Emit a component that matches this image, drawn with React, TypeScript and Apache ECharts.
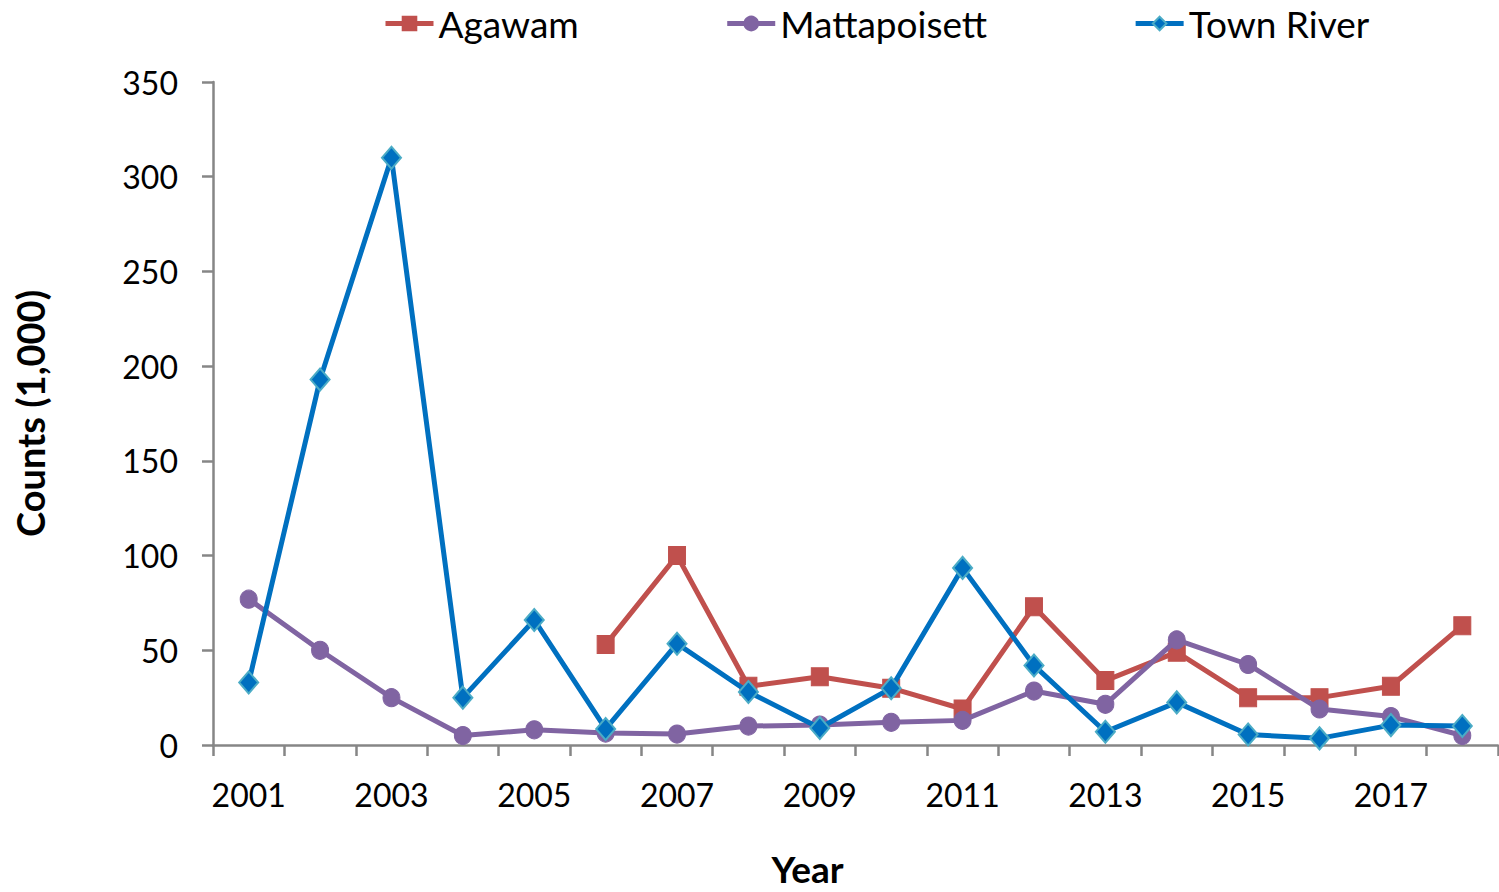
import React, { useEffect, useRef } from "react";
import * as echarts from "echarts";

const years = ["2001","2002","2003","2004","2005","2006","2007","2008","2009","2010","2011","2012","2013","2014","2015","2016","2017","2018"];
const agawam = [null, null, null, null, null, 53, 100, 31, 36, 30, 19, 73, 34, 49, 25, 25, 31, 63];
const mattapoisett = [77, 50, 25, 5, 8, 6.3, 5.8, 10, 10.5, 12, 13, 28.5, 21.5, 55.5, 42.5, 19, 15, 5];
const townRiver = [33, 193, 310, 25, 66, 8.5, 53.5, 28, 9, 30, 93.5, 42, 7, 22.5, 5.5, 3.5, 10.5, 10];
const yTicks = { min: 0, max: 350, interval: 50 };

const FONT = "Lato, 'Open Sans', sans-serif";
const AXIS_GRAY = "#868686";

export default function App() {
  const ref = useRef<HTMLDivElement>(null);
  useEffect(() => {
    document.body.style.margin = "0";
    const chart = echarts.init(ref.current!, null, { renderer: "svg" });
    chart.setOption({
      animation: false,
      backgroundColor: "#ffffff",
      textStyle: { fontFamily: FONT },
      legend: {
        top: 0,
        left: 378,
        itemWidth: 48,
        itemHeight: 17,
        itemGap: 146,
        lineStyle: { width: 5 },
        textStyle: { fontSize: 37, color: "#000", fontFamily: FONT },
        data: ["Agawam", "Mattapoisett", "Town River"],
      },
      grid: { left: 213, right: 1, top: 82, bottom: 143 },
      xAxis: {
        type: "category",
        data: years,
        boundaryGap: true,
        name: "Year",
        nameLocation: "middle",
        nameGap: 105,
        nameTextStyle: { fontSize: 37, fontWeight: "bold", color: "#000", fontFamily: FONT, padding: [0, 96, 0, 0] },
        axisLine: { lineStyle: { color: AXIS_GRAY, width: 2.5 } },
        axisTick: { show: true, interval: 0, length: 11, lineStyle: { color: AXIS_GRAY, width: 2.5 } },
        axisLabel: { interval: 1, fontSize: 32, color: "#000", margin: 33, fontFamily: FONT },
        splitLine: { show: false },
      },
      yAxis: {
        type: "value",
        min: yTicks.min,
        max: yTicks.max,
        interval: yTicks.interval,
        name: "Counts (1,000)",
        nameLocation: "middle",
        nameGap: 164,
        nameRotate: 90,
        nameTextStyle: { fontSize: 38, fontWeight: "bold", color: "#000", fontFamily: FONT },
        axisLine: { show: true, lineStyle: { color: AXIS_GRAY, width: 2.5 } },
        axisTick: { show: true, length: 11, lineStyle: { color: AXIS_GRAY, width: 2.5 } },
        axisLabel: { fontSize: 32, color: "#000", margin: 35, fontFamily: FONT },
        splitLine: { show: false },
      },
      series: [
        {
          name: "Agawam",
          type: "line",
          data: agawam,
          symbol: "rect",
          symbolSize: [17, 18],
          lineStyle: { color: "#C0504D", width: 5 },
          itemStyle: { color: "#C0504D", borderColor: "#C0504D", borderWidth: 1 },
          z: 2,
        },
        {
          name: "Mattapoisett",
          type: "line",
          data: mattapoisett,
          symbol: "circle",
          symbolSize: [17, 18],
          lineStyle: { color: "#8064A2", width: 5 },
          itemStyle: { color: "#8064A2", borderColor: "#8064A2", borderWidth: 1 },
          z: 3,
        },
        {
          name: "Town River",
          type: "line",
          data: townRiver,
          symbol: "diamond",
          symbolSize: [19, 22],
          lineStyle: { color: "#0070C0", width: 5 },
          itemStyle: { color: "#0070C0", borderColor: "#4BACC6", borderWidth: 2 },
          z: 4,
        },
      ],
    });
    return () => chart.dispose();
  }, []);
  return <div ref={ref} style={{ width: 1499, height: 892 }} />;
}
